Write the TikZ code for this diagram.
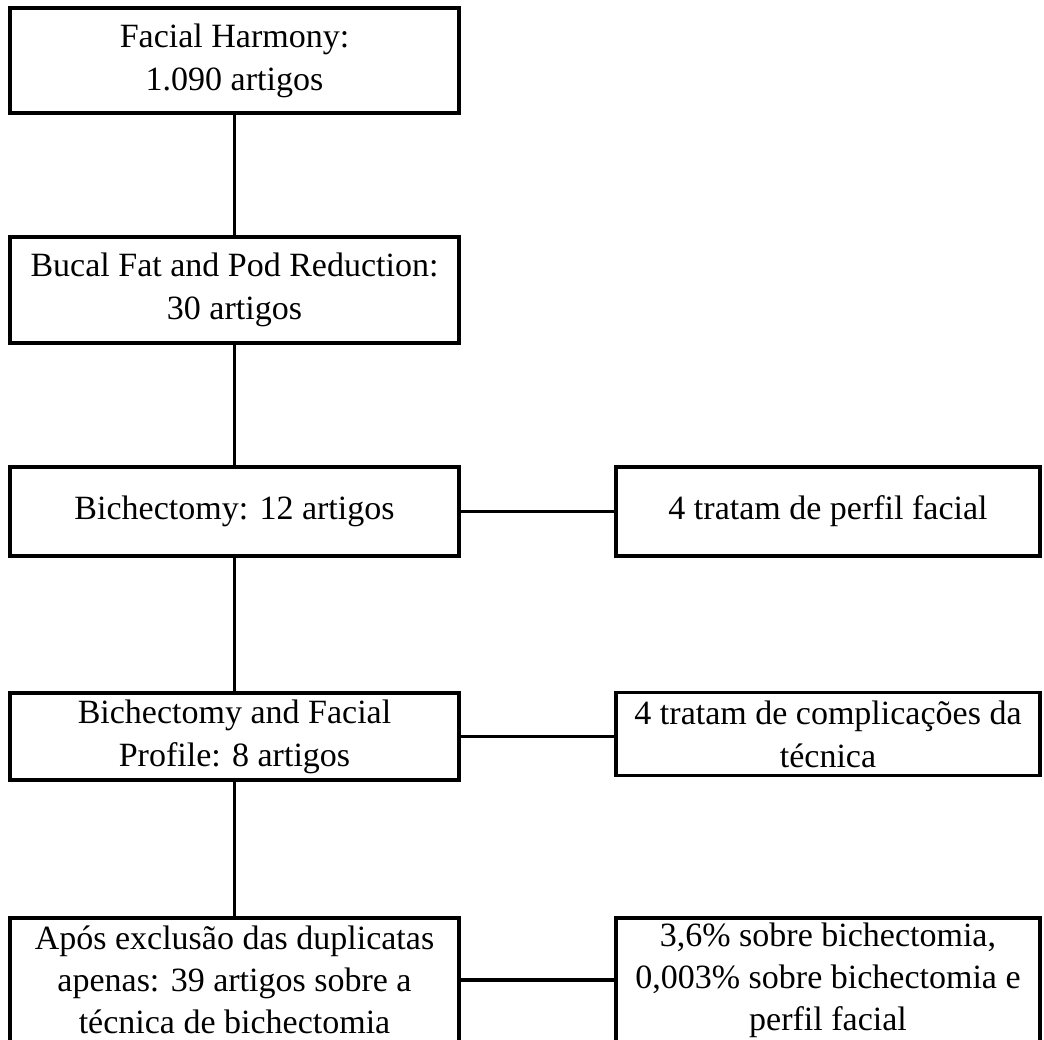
\documentclass[tikz,border=0pt]{standalone}
\usepackage{fontspec}
\setmainfont{Liberation Serif}
\begin{document}
\begin{tikzpicture}[x=1pt,y=-1pt,
  box/.style={draw, line width=3.8pt, align=center, inner sep=0pt, font=\fontsize{34}{43}\selectfont},
  lbox/.style={box, minimum width=449pt},
  rbox/.style={box, minimum width=424pt},
  link/.style={line width=3.5pt}]
\useasboundingbox (0,0) rectangle (1044,1039);
\clip (0,0) rectangle (1044,1039);
\fill[white] (0,0) rectangle (1044,1039);

\node[lbox, minimum height=105pt] (b1) at (234.5,60.5) {Facial Harmony:\\1.090 artigos};
\node[lbox, minimum height=106pt] (b2) at (234.5,290) {Bucal Fat and Pod Reduction:\\30 artigos};
\node[lbox, minimum height=89pt] (b3) at (234.5,511.5) {Bichectomy: 12 artigos};
\node[lbox, minimum height=87pt] (b4) at (234.5,736.5) {Bichectomy and Facial\\Profile: 8 artigos};
\node[lbox, minimum height=124pt, font=\fontsize{34}{42}\selectfont] (b5) at (234.5,980) {Após exclusão das duplicatas\\apenas: 39 artigos sobre a\\técnica de bichectomia};

\node[rbox, minimum height=89pt] (r1) at (828,511.5) {4 tratam de perfil facial};
\node[rbox, minimum height=83pt] (r2) at (828,734) {4 tratam de complicações da\\técnica};
\node[rbox, minimum height=124pt, font=\fontsize{34}{42}\selectfont] (r3) at (828,980) {3,6\% sobre bichectomia,\\0,003\% sobre bichectomia e\\perfil facial};

\draw[link] (b1) -- (b2);
\draw[link] (b2) -- (b3);
\draw[link] (b3) -- (b4);
\draw[link] (b4) -- (b5);
\draw[link] (b3.east) -- (r1.west);
\draw[link] (b4.east) -- (b4.east -| r2.west);
\draw[link] (b5.east) -- (b5.east -| r3.west);
\end{tikzpicture}
\end{document}
